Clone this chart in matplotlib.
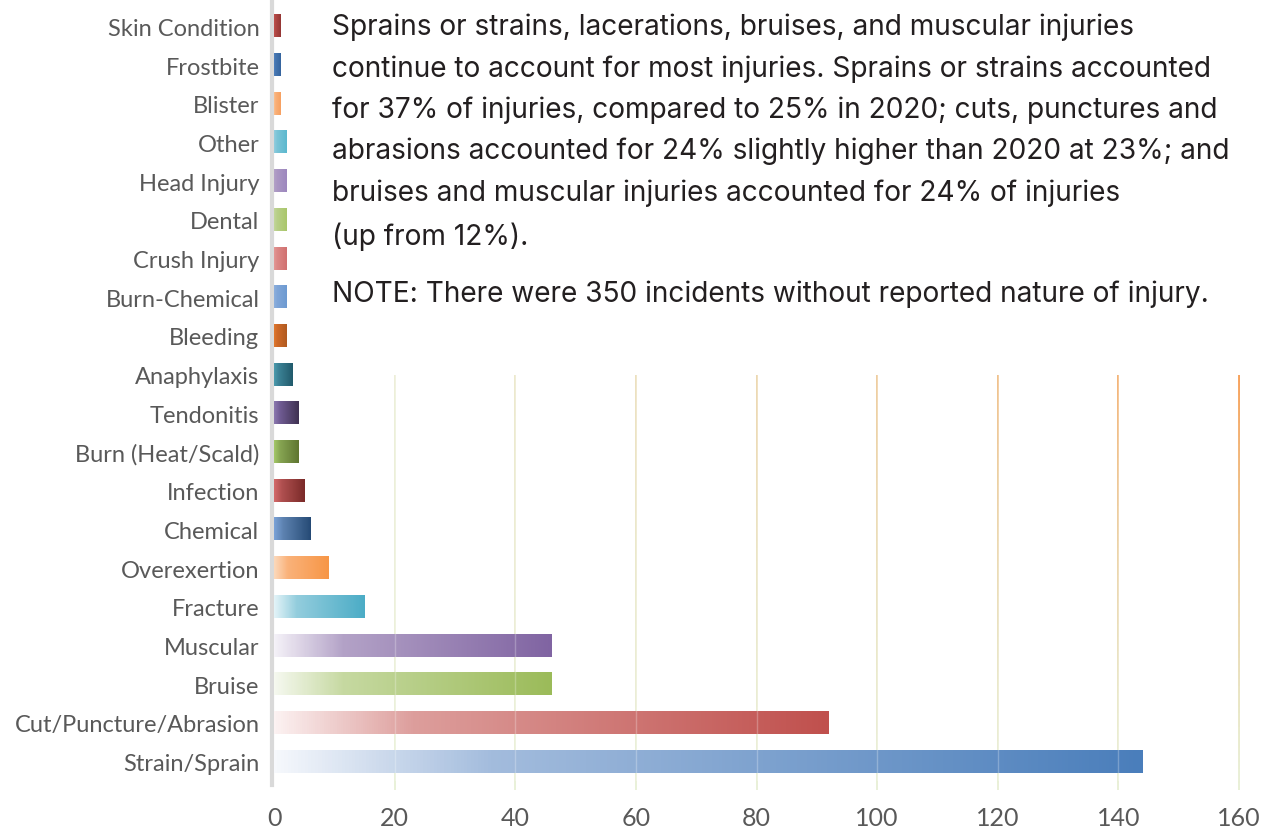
import matplotlib
matplotlib.use("Agg")
import matplotlib.pyplot as plt
import numpy as np
from matplotlib.colors import to_rgb, LinearSegmentedColormap
from matplotlib.collections import LineCollection

# Данные (снизу вверх на графике)
categories = ["Strain/Sprain", "Cut/Puncture/Abrasion", "Bruise", "Muscular",
              "Fracture", "Overexertion", "Chemical", "Infection",
              "Burn (Heat/Scald)", "Tendonitis", "Anaphylaxis", "Bleeding",
              "Burn-Chemical", "Crush Injury", "Dental", "Head Injury",
              "Other", "Blister", "Frostbite", "Skin Condition"]
counts = [144, 92, 46, 46, 15, 9, 6, 5, 4, 4, 3, 2, 2, 2, 2, 2, 2, 1, 1, 1]

# Цвета градиента: начало, середина (~25%), конец
grad_start = ["#f6f8fc", "#fcf2f2", "#f6f9f0", "#f5f2f8", "#e4f4f8", "#fcd9bc",
              "#7ba3d8", "#d46a6a", "#a5c869", "#8c7ab0", "#4d9cae", "#e07a30",
              "#8db0dd", "#e39896", "#c3d69b", "#b3a2c7", "#93cddd", "#fac090",
              "#4f81bd", "#c0504d"]
grad_mid = ["#a3bcdd", "#dd9e9c", "#c6d9a1", "#b3a2c7", "#93cddd", "#fab27a",
            "#5d82b0", "#b05050", "#86a452", "#6f5b92", "#3c8296", "#d06a28",
            "#80a6d8", "#dc8886", "#b8cf88", "#aa97c3", "#7ac4d7", "#f9b078",
            "#4575b0", "#b04844"]
grad_end = ["#4a7ebb", "#c0504d", "#9bbb59", "#8064a2", "#4bacc6", "#f79646",
            "#254a75", "#7a2a28", "#5e7530", "#3f3151", "#215a6b", "#b05a20",
            "#6d9ad1", "#d07070", "#a9c66a", "#9d87be", "#5bb8ce", "#f7a060",
            "#35649e", "#943634"]

xticks = [0, 20, 40, 60, 80, 100, 120, 140, 160]

paragraph = ["Sprains or strains, lacerations, bruises, and muscular injuries",
             "continue to account for most injuries. Sprains or strains accounted",
             "for 37% of injuries, compared to 25% in 2020; cuts, punctures and",
             "abrasions accounted for 24% slightly higher than 2020 at 23%; and",
             "bruises and muscular injuries accounted for 24% of injuries",
             "(up from 12%)."]
note = "NOTE: There were 350 incidents without reported nature of injury."

fig = plt.figure(figsize=(12.7, 8.29), dpi=100)
ax = fig.add_axes([274 / 1270, 1 - 782 / 829, (1239 - 274) / 1270, (782 - 8) / 829])

for s in ["top", "right", "bottom"]:
    ax.spines[s].set_visible(False)
ax.spines["left"].set_color("#d9d9d9")
ax.spines["left"].set_linewidth(3)
ax.spines["left"].set_position(("data", -0.35))
ax.spines["left"].set_bounds(-0.6, 19.85)

bar_h = 0.57

# Градиентные полоски
for i, (v, c0, cm, c1) in enumerate(zip(counts, grad_start, grad_mid, grad_end)):
    cmap = LinearSegmentedColormap.from_list(
        "g%d" % i, [(0, c0), (0.25, cm), (1, c1)])
    grad = np.linspace(0, 1, 512).reshape(1, -1)
    ax.imshow(grad, cmap=cmap, aspect="auto", interpolation="nearest",
              extent=[0, v, i - bar_h / 2, i + bar_h / 2], zorder=3)

ax.set_xlim(0, 160)
ax.set_ylim(-0.5, 19.5)

# Вертикальная сетка с градиентом (оранжевый сверху -> зелёный снизу)
y_top = 10.0
y_bot = -0.72
n_seg = 60
ys = np.linspace(y_top, y_bot, n_seg + 1)
green = np.array(to_rgb("#c9dca0"))
orange = np.array(to_rgb("#f79646"))
for xv in xticks[1:]:
    w = xv / 160
    segs = [[(xv, ys[k]), (xv, ys[k + 1])] for k in range(n_seg)]
    cols = []
    for k in range(n_seg):
        t = k / n_seg
        top_c = green * (1 - w) + orange * w
        c = top_c * (1 - t) + green * t
        a = (0.3 + 0.6 * w) * (1 - t) + 0.4 * t
        cols.append((*c, a))
    lc = LineCollection(segs, colors=cols, linewidths=1.4, zorder=2, clip_on=False)
    ax.add_collection(lc)
    # светлая линия поверх полосок
    ax.plot([xv, xv], [y_bot, y_top], color="white", lw=1.0, alpha=0.25, zorder=5)

ax.set_yticks(range(len(categories)))
ax.set_yticklabels(categories, fontfamily="Lato", fontsize=17, color="#595959")
ax.set_xticks(xticks)
ax.set_xticklabels([str(t) for t in xticks], fontfamily="Lato", fontsize=18,
                   color="#595959")
ax.tick_params(axis="both", length=0)
ax.tick_params(axis="y", pad=9)
ax.tick_params(axis="x", pad=18)

line_y = [27, 69, 110, 151, 193, 237]
for txt, yp in zip(paragraph, line_y):
    fig.text(332 / 1270, 1 - yp / 829, txt, fontfamily="Inter", fontsize=20.2,
             color="#231f20", va="center", ha="left")
fig.text(332 / 1270, 1 - 294 / 829, note, fontfamily="Inter", fontsize=20.2,
         color="#231f20", va="center", ha="left")

plt.savefig("out.png", dpi=100)
